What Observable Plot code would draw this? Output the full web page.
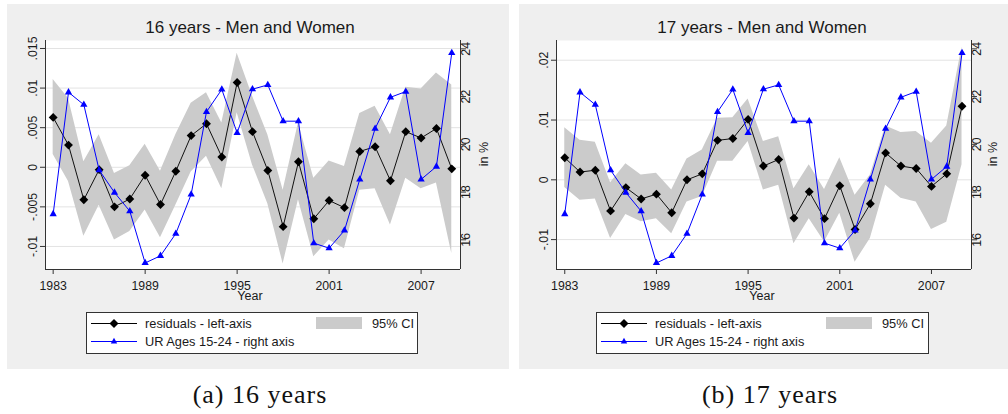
<!DOCTYPE html>
<html>
<head>
<meta charset="utf-8">
<script src="https://cdn.jsdelivr.net/npm/d3@7"></script>
<script src="https://cdn.jsdelivr.net/npm/@observablehq/plot@0.6"></script>
<style>
  html, body { margin: 0; padding: 0; background: #ffffff; }
  body { width: 1008px; height: 414px; position: relative; overflow: hidden;
         font-family: "Liberation Sans", Arial, sans-serif; }
  .panel { position: absolute; top: 4px; width: 502px; height: 365px; background: #efefef; overflow: hidden; }
  .layer { position: absolute; left: 0; top: 0; }
  .caption { position: absolute; top: 380px; width: 300px; text-align: center;
             font-family: "Liberation Serif", "DejaVu Serif", serif; font-size: 26px; letter-spacing: 1px; color: #111; }
</style>
</head>
<body>
<div id="panelA" class="panel" style="left:7px;"></div>
<div id="panelB" class="panel" style="left:519px;"></div>
<div class="caption" style="left:110px;">(a) 16 years</div>
<div class="caption" style="left:620px;">(b) 17 years</div>
<script>
// ---------- data ----------
const years = [1983,1984,1985,1986,1987,1988,1989,1990,1991,1992,1993,1994,1995,1996,1997,1998,1999,2000,2001,2002,2003,2004,2005,2006,2007,2008,2009];
const xTicks = [1983,1989,1995,2001,2007];

// unemployment rate ages 15-24 (right axis, in %)
const urAges1524 = [17.08,22.18,21.66,18.92,17.98,17.20,15.03,15.33,16.26,17.90,21.36,22.30,20.48,22.31,22.49,20.97,20.97,15.86,15.65,16.39,18.53,20.66,21.97,22.21,18.53,19.07,23.83];

// 16 years: residuals and 95% CI
const res16   = [0.0063,0.0028,-0.0041,-0.0003,-0.0050,-0.0040,-0.0010,-0.0047,-0.0005,0.0040,0.0055,0.0013,0.0107,0.0045,-0.0004,-0.0075,0.0007,-0.0065,-0.0042,-0.0051,0.0020,0.0026,-0.0017,0.0045,0.0037,0.0049,-0.0002];
const res16Lo = [0.0016,-0.0018,-0.0087,-0.0048,-0.0092,-0.0081,-0.0054,-0.0089,-0.0048,-0.0006,0.0014,-0.0027,0.0069,0.0003,-0.0046,-0.0122,-0.0041,-0.0113,-0.0092,-0.0103,-0.0029,-0.0027,-0.0073,-0.0014,-0.0027,-0.0020,-0.0109];
const res16Hi = [0.0111,0.0087,0.0007,0.0041,-0.0008,0.0002,0.0029,-0.0005,0.0041,0.0081,0.0094,0.0056,0.0144,0.0090,0.0041,-0.0029,0.0056,-0.0014,0.0008,0.0001,0.0068,0.0077,0.0041,0.0101,0.0099,0.0119,0.0104];

// 17 years: residuals and 95% CI
const res17   = [0.0037,0.0013,0.0016,-0.0052,-0.0013,-0.0032,-0.0024,-0.0055,0.0000,0.0010,0.0066,0.0069,0.0101,0.0023,0.0034,-0.0064,-0.0020,-0.0065,-0.0010,-0.0083,-0.0040,0.0045,0.0023,0.0019,-0.0011,0.0010,0.0123];
const res17Lo = [-0.0013,-0.0034,-0.0032,-0.0098,-0.0058,-0.0070,-0.0065,-0.0090,-0.0037,-0.0028,0.0031,0.0031,0.0064,-0.0017,-0.0009,-0.0107,-0.0065,-0.0104,-0.0056,-0.0138,-0.0098,-0.0009,-0.0031,-0.0037,-0.0083,-0.0071,0.0025];
const res17Hi = [0.0087,0.0066,0.0063,-0.0005,0.0027,0.0008,0.0011,-0.0017,0.0035,0.0050,0.0103,0.0104,0.0135,0.0064,0.0072,-0.0015,0.0025,-0.0016,0.0037,-0.0026,0.0008,0.0090,0.0079,0.0081,0.0061,0.0090,0.0222];

const leftTicks16 = [-0.01,-0.005,0,0.005,0.01,0.015];
const leftTicks17 = [-0.01,0,0.01,0.02];
const rightTicks = [16,18,20,22,24];

const titles = ["16 years - Men and Women", "17 years - Men and Women"];
const xLabel = "Year";
const rightLabel = "in %";
const legendLabels = ["residuals - left-axis", "UR Ages 15-24 - right axis", "95% CI"];

// ---------- drawing ----------
const FONT = '"Liberation Sans", Arial, sans-serif';
const fmtLeft = d => d === 0 ? "0" : String(d).replace("0.", ".");

function drawPanel(el, cfg) {
  const W = 502, H = 300, mT = 36, mB = 35;
  const data = years.map((y, i) => ({year: y, res: cfg.res[i], lo: cfg.lo[i], hi: cfg.hi[i], ur: urAges1524[i]}));
  const style = {background: "transparent", fontFamily: FONT, fontSize: "12.3px", color: "#1a1a1a", overflow: "visible"};

  const p1 = Plot.plot({
    width: W, height: H, marginLeft: cfg.mL, marginRight: cfg.mR, marginTop: mT, marginBottom: mB,
    style,
    x: {domain: cfg.xDomain},
    y: {domain: cfg.yDomain},
    marks: [
      Plot.frame({fill: "white", stroke: null}),
      Plot.gridY(cfg.leftTicks, {stroke: "#e3e3e3", strokeOpacity: 1, strokeWidth: 1}),
      Plot.areaY(data, {x: "year", y1: "lo", y2: "hi", fill: "#cbcbcb", fillOpacity: 1}),
      Plot.lineY(data, {x: "year", y: "res", stroke: "#111", strokeWidth: 1}),
      Plot.dot(data, {x: "year", y: "res", symbol: "diamond2", fill: "#000", stroke: null, r: 4}),
      Plot.ruleX([cfg.xDomain[0], cfg.xDomain[1]], {stroke: "#333", strokeWidth: 1}),
      Plot.ruleY([cfg.yDomain[0]], {stroke: "#333", strokeWidth: 1}),
      Plot.axisY({anchor: "left", ticks: cfg.leftTicks, tickFormat: fmtLeft, tickSize: 5, tickPadding: 4,
                  tickRotate: -90, label: null, stroke: "#333"}),
      Plot.axisX({anchor: "bottom", ticks: xTicks, tickFormat: d => String(d), tickSize: 5, tickPadding: 7,
                  label: null, stroke: "#333"})
    ]
  });
  p1.classList.add("layer");
  el.appendChild(p1);

  const p2 = Plot.plot({
    width: W, height: H, marginLeft: cfg.mL, marginRight: cfg.mR, marginTop: mT, marginBottom: mB,
    style,
    x: {domain: cfg.xDomain, axis: null},
    y: {domain: [14.756, 24.35]},
    marks: [
      Plot.lineY(data, {x: "year", y: "ur", stroke: "#0000ff", strokeWidth: 1}),
      Plot.dot(data, {x: "year", y: "ur", symbol: "triangle", fill: "#0000ff", stroke: null, r: 2.7}),
      Plot.axisY({anchor: "right", ticks: rightTicks, tickFormat: d => String(d), tickSize: 5, tickPadding: 4,
                  tickRotate: -90, label: null, stroke: "#333"})
    ]
  });
  p2.classList.add("layer");
  el.appendChild(p2);

  // annotation layer: title, axis titles, legend
  const L = cfg.legend;
  const ns = "http://www.w3.org/2000/svg";
  const svg = document.createElementNS(ns, "svg");
  svg.setAttribute("width", W); svg.setAttribute("height", 365);
  svg.setAttribute("class", "layer");
  svg.style.fontFamily = FONT;
  svg.innerHTML = `
    <text x="${cfg.titleX}" y="29" text-anchor="middle" font-size="17" fill="#1a1a1a">${cfg.title}</text>
    <text x="${cfg.titleX}" y="296" text-anchor="middle" font-size="12.5" fill="#1a1a1a">${xLabel}</text>
    <text transform="translate(${cfg.inX},150) rotate(-90)" text-anchor="middle" dy="0.35em" font-size="12.5" fill="#1a1a1a">${rightLabel}</text>
    <rect x="${L.x + 0.5}" y="308.5" width="${L.w}" height="41" fill="#fff" stroke="#333" stroke-width="1"/>
    <line x1="${L.x + 5}" x2="${L.x + 51}" y1="319.5" y2="319.5" stroke="#000" stroke-width="1"/>
    <path transform="translate(${L.x + 28},319.5)" d="M0,-4.5L4.5,0L0,4.5L-4.5,0Z" fill="#000"/>
    <text x="${L.x + 59}" y="324" font-size="12.8" fill="#1a1a1a">${legendLabels[0]}</text>
    <line x1="${L.x + 5}" x2="${L.x + 51}" y1="337.5" y2="337.5" stroke="#0000ff" stroke-width="1"/>
    <path transform="translate(${L.x + 28},337.5)" d="M0,-3.7L3.2,2L-3.2,2Z" fill="#0000ff"/>
    <text x="${L.x + 59}" y="342" font-size="12.8" fill="#1a1a1a">${legendLabels[1]}</text>
    <rect x="${L.x + 230}" y="313" width="46" height="12" fill="#cbcbcb"/>
    <text x="${L.x + 286}" y="324" font-size="12.8" fill="#1a1a1a">${legendLabels[2]}</text>
  `;
  el.appendChild(svg);
}

drawPanel(document.getElementById("panelA"), {
  res: res16, lo: res16Lo, hi: res16Hi, leftTicks: leftTicks16,
  yDomain: [-0.01291, 0.01601], xDomain: [1982.5, 2009.57],
  mL: 38, mR: 49, title: titles[0], titleX: 243, inX: 477, legend: {x: 79, w: 331}
});
drawPanel(document.getElementById("panelB"), {
  res: res17, lo: res17Lo, hi: res17Hi, leftTicks: leftTicks17,
  yDomain: [-0.0150, 0.0233], xDomain: [1982.46, 2009.62],
  mL: 37, mR: 50, title: titles[1], titleX: 243, inX: 474, legend: {x: 77, w: 332}
});
</script>
</body>
</html>
